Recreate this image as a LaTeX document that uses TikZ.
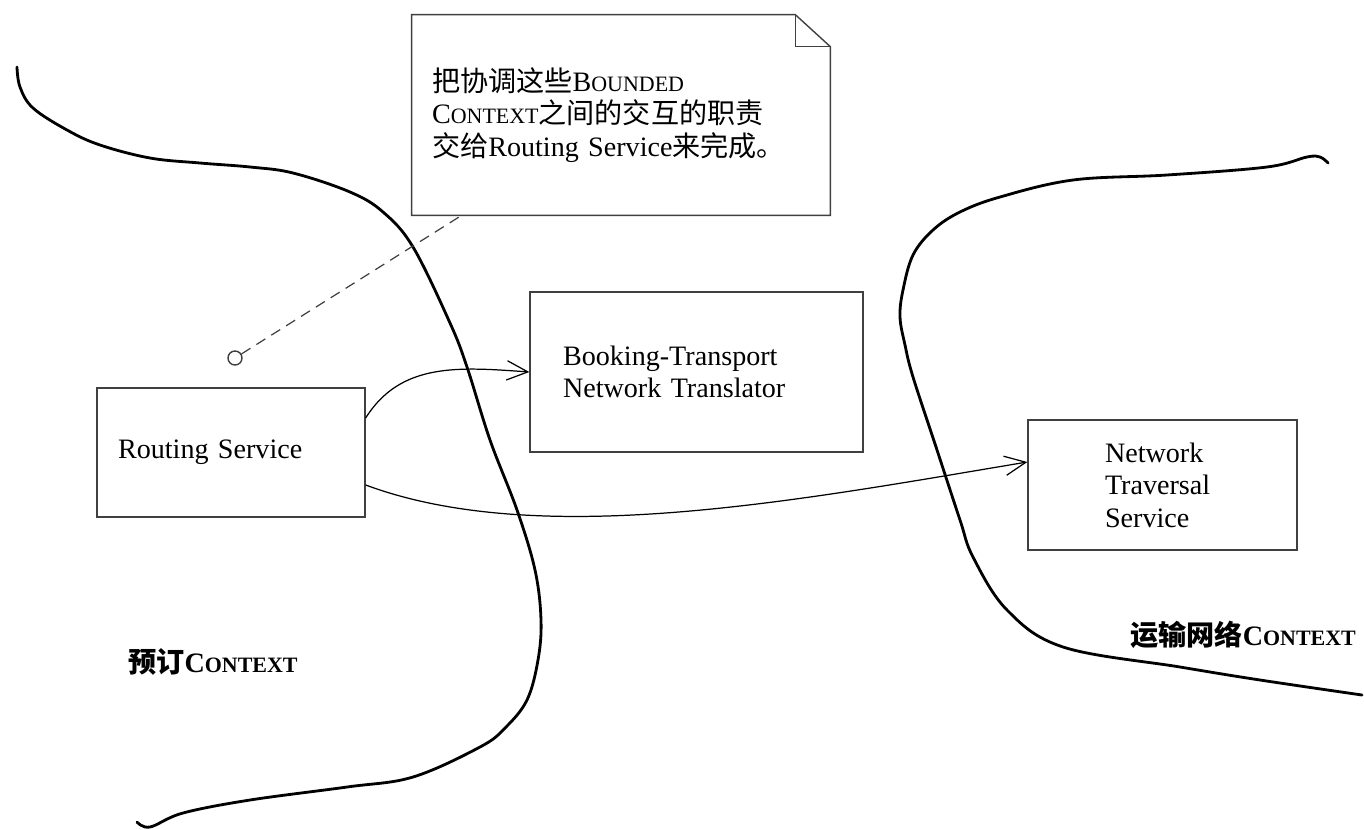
\documentclass[tikz,border=0pt]{standalone}
\usepackage{fontspec}
\setmainfont{Liberation Serif}
\newfontfamily\cjk{Noto Sans CJK SC}
\usetikzlibrary{arrows.meta}
\newcommand{\fakesc}[2]{#1{\fontsize{12.5}{18.5}\selectfont #2}}

\begin{document}
\begin{tikzpicture}[x=0.02cm, y=-0.02cm,
    txt/.style={font=\fontsize{16}{18.5}\selectfont},
    box/.style={txt, draw=black!75, line width=0.8pt, align=left, inner ysep=0pt},
    border/.style={line width=1.6pt, line cap=round},
    flow/.style={line width=0.7pt, -{Straight Barb[length=12pt, width=11pt]}},
    ctxlabel/.style={font=\fontsize{16}{18.5}\selectfont\bfseries, inner sep=0pt, anchor=west}]
    \useasboundingbox (0,0) rectangle (1364,829);

    % context borders
    \draw[border] plot[smooth, tension=0.6] coordinates {(17,67) (20,87) (33,108) (67,130) (100,145) (150,158)
        (200,163) (250,167) (293,173) (350,192) (383,212) (413,247) (450,323) (467,367) (490,440)
        (517,510) (535,570) (541,620) (538,660) (527,700) (505,728) (480,747) (413,777) (347,787)
        (250,800) (183,813) (150,827) (137,822)};
    \draw[border] plot[smooth, tension=0.6] coordinates {(1328,163) (1320,157) (1307,157) (1267,167)
        (1167,175) (1073,180) (1000,197) (960,212) (933,230) (913,255) (903,290) (900,317) (905,345)
        (913,377) (937,450) (960,520) (973,557) (1007,610) (1063,647) (1180,667) (1260,680) (1362,695)};

    % note
    \node[txt, align=left, text width=7.56cm, inner xsep=0.4cm, inner ysep=0pt, minimum height=4cm] (note) at (621,115)
        {{\cjk 把协调这些}\fakesc{B}{OUNDED}\\
         \fakesc{C}{ONTEXT}{\cjk 之间的交互的职责}\\
         {\cjk 交给}Routing Service{\cjk 来完成。}};
    \draw[draw=black!75, line width=0.8pt] (note.north west) -- ([xshift=-0.7cm]note.north east)
        -- ([yshift=-0.64cm]note.north east) -- (note.south east) -- (note.south west) -- cycle;
    \draw[draw=black!75, line width=0.8pt] ([xshift=-0.7cm]note.north east) |- ([yshift=-0.64cm]note.north east);

    % services
    \node[box, text width=4.52cm, inner xsep=0.42cm, minimum height=2.58cm] (routing) at (231,452.5) {Routing Service};
    \node[box, text width=5.34cm, inner xsep=0.66cm, minimum height=3.2cm] (booking) at (696.5,372)
        {Booking-Transport\\Network Translator};
    \node[box, text width=2.3cm, inner xsep=1.54cm, minimum height=2.6cm] (traversal) at (1162.5,485)
        {Network\\Traversal\\Service};

    % note attachment
    \node[circle, draw=black!75, line width=0.8pt, minimum size=0.28cm, inner sep=0pt] (attach) at (235,358) {};
    \draw[dashed, dash pattern=on 6pt off 4pt, line width=0.7pt, black!75] (attach) -- ([xshift=1cm]note.south west);

    % calls
    \draw[flow] ([yshift=0.69cm]routing.east) .. controls +(35,-56) and +(-70,-5) .. (booking.west);
    \draw[flow] ([yshift=-0.65cm]routing.east) .. controls +(175,65) and +(-228,38) .. ([yshift=0.46cm]traversal.west);

    % context names
    \node[ctxlabel] (booking context) at (128,662) {{\cjk 预订}\fakesc{C}{ONTEXT}};
    \node[ctxlabel] (transport context) at (1130,635) {{\cjk 运输网络}\fakesc{C}{ONTEXT}};
\end{tikzpicture}
\end{document}
